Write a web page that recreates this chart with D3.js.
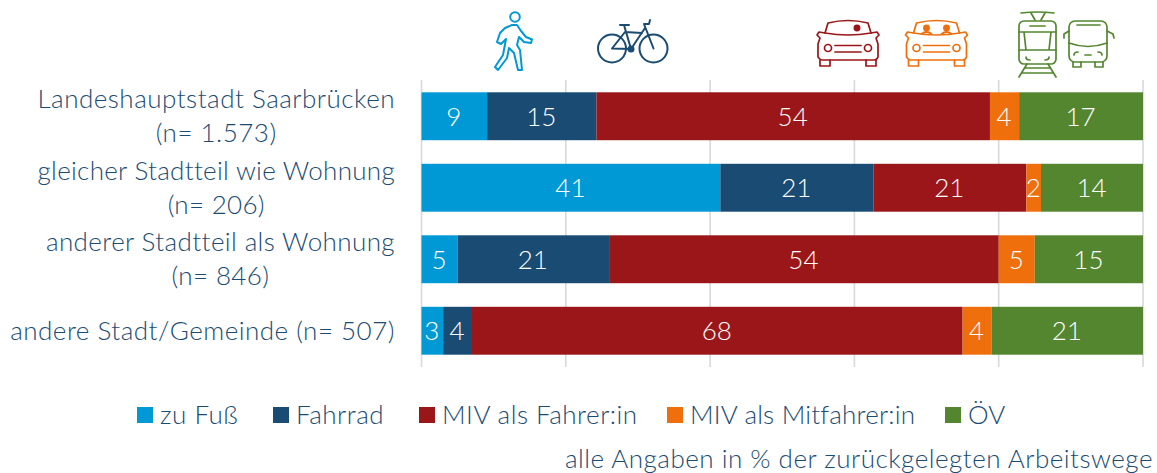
<!DOCTYPE html>
<html><head><meta charset="utf-8">
<script src="https://cdn.jsdelivr.net/npm/d3@7/dist/d3.min.js"></script>
<style>html,body{margin:0;padding:0;background:#fff}svg{display:block}
text{font-family:Lato,"Open Sans",sans-serif;font-weight:300}</style></head>
<body><svg id="c" width="1157" height="473"></svg>
<script>
const categories=["Landeshauptstadt Saarbrücken|(n= 1.573)","gleicher Stadtteil wie Wohnung|(n= 206)","anderer Stadtteil als Wohnung|(n= 846)","andere Stadt/Gemeinde (n= 507)"];
const seriesNames=["zu Fuß","Fahrrad","MIV als Fahrer:in","MIV als Mitfahrer:in","ÖV"];
const seriesColors=["#0099d6","#1a4b73","#9a1619","#ee6f0c","#548630"];
const zuFuss=[9,41,5,3];
const fahrrad=[15,21,21,4];
const mivFahrer=[54,21,54,68];
const mivMitfahrer=[4,2,5,4];
const oev=[17,14,15,21];
const gridTicks=[0,.2,.4,.6,.8,1];
const note="alle Angaben in % der zurückgelegten Arbeitswege";
const textColor="#1a4b73";
const labelSpacing=[.5,.3,.4,.5];
const legendSpacing=[.5,.5,.5,.2,0];

const svg=d3.select("#c");
const rows=categories.map((c,i)=>{const o={cat:c};[zuFuss,fahrrad,mivFahrer,mivMitfahrer,oev].forEach((a,k)=>o[seriesNames[k]]=a[i]);return o;});
const x=d3.scaleLinear().domain([0,1]).range([421.5,1143]);
const y=d3.scaleBand().domain(categories).range([80.5,366.5]).paddingInner(.33).paddingOuter(.165);
const stack=d3.stack().keys(seriesNames).offset(d3.stackOffsetExpand)(rows);

svg.append("g").selectAll("line").data(gridTicks).join("line")
 .attr("x1",d=>x(d)).attr("x2",d=>x(d)).attr("y1",80).attr("y2",367)
 .attr("stroke","#d9d9d9").attr("stroke-width",1.6);

const g=svg.append("g").selectAll("g").data(stack).join("g").attr("fill",(d,i)=>seriesColors[i]);
g.selectAll("rect").data(d=>d.map(v=>Object.assign(v,{key:d.key}))).join("rect")
 .attr("x",d=>x(d[0])).attr("width",d=>x(d[1])-x(d[0]))
 .attr("y",d=>y(d.data.cat)).attr("height",y.bandwidth());
g.selectAll("text").data(d=>d).join("text")
 .attr("x",d=>(x(d[0])+x(d[1]))/2-.5).attr("y",d=>y(d.data.cat)+y.bandwidth()/2+9.5)
 .attr("text-anchor","middle").attr("fill","#fff").attr("font-size",26)
 .text(d=>d.data[d.key]);

// category labels: block right-aligned, lines centred inside the block
const labelRight=395;
categories.forEach((c,k)=>{
  const parts=c.split("|"), mid=y(c)+y.bandwidth()/2;
  const t=parts.map((p,i)=>svg.append("text").style("letter-spacing",labelSpacing[k]+"px").attr("font-size",26).attr("fill",textColor)
    .attr("y",parts.length>1?mid+(i?26:-8):mid+9).text(p));
  const w=t[0].node().getComputedTextLength();
  t.forEach(n=>n.attr("x",labelRight-w/2).attr("text-anchor","middle"));
});

// legend
const legX=[137,273,419,667,945];
seriesNames.forEach((s,i)=>{
  svg.append("rect").attr("x",legX[i]).attr("y",407).attr("width",16).attr("height",16).attr("fill",seriesColors[i]);
  svg.append("text").style("letter-spacing",legendSpacing[i]+"px").attr("x",legX[i]+23).attr("y",424).attr("font-size",26).attr("fill",textColor).text(s);
});
svg.append("text").style("letter-spacing",".5px").attr("x",1153).attr("y",468).attr("text-anchor","end").attr("font-size",26).attr("fill",textColor).text(note);

// icons
function ic(color,sw){return svg.append("g").attr("fill","none").attr("stroke",color).attr("stroke-width",sw||2).attr("stroke-linejoin","round").attr("stroke-linecap","round");}
const walk=ic(seriesColors[0],2);
walk.append("circle").attr("cx",515).attr("cy",17).attr("r",4.8);
walk.append("path").attr("d","M512 25L517 25L521 31L526 37L532 39.5L531 43L524 42L519 37L517 45L520 50L522 70L518 70L514 53L509 48L507 58L498 70L495 67L503 55L506 39L501 44L497 42L500 33L505 28Z");
const bike=ic(seriesColors[1],2);
bike.append("circle").attr("cx",612).attr("cy",48.5).attr("r",14);
bike.append("circle").attr("cx",653.5).attr("cy",48.5).attr("r",14);
bike.append("path").attr("d","M612 48.5L631 49L645 28M645 24L649 24L650 20M653.5 48.5L644 24M631 49L624 25M620 25L629 25M612 48.5L625 32L642 33");
bike.append("circle").attr("cx",631).attr("cy",49).attr("r",2.5).attr("fill",seriesColors[1]);
function car(cx,color,heads){
  const c=ic(color,1.7);
  c.append("path").attr("d",`M${cx-23} 33L${cx-20} 23Q${cx} 18 ${cx+20} 23L${cx+23} 33Q${cx} 37 ${cx-23} 33Z`);
  c.append("path").attr("d",`M${cx-23} 33L${cx-29} 32L${cx-31} 35L${cx-28} 38L${cx-30} 44L${cx-30} 57Q${cx-28} 60 ${cx-26} 60L${cx+26} 60Q${cx+29} 60 ${cx+30} 57L${cx+30} 44L${cx+28} 38L${cx+31} 35L${cx+29} 32L${cx+23} 33`);
  c.append("path").attr("d",`M${cx-28} 60L${cx-28} 66L${cx-18} 66L${cx-18} 60M${cx+18} 60L${cx+18} 66L${cx+28} 66L${cx+28} 60M${cx-13} 45.5L${cx+13} 45.5M${cx-13} 52L${cx+13} 52`);
  [-20,20].forEach(d=>c.append("circle").attr("cx",cx+d).attr("cy",48).attr("r",3.5));
  heads.forEach(h=>{
    c.append("circle").attr("cx",cx+h).attr("cy",28).attr("r",2.6).attr("fill",color);
    if(heads.length>1)c.append("path").attr("d",`M${cx+h-5} 34Q${cx+h} 30 ${cx+h+5} 34`);
  });
}
car(848,seriesColors[2],[9]);
car(936.5,seriesColors[3],[-10,10]);
const tr=ic(seriesColors[4],1.7);
tr.append("path").attr("d","M1021 13Q1038 11 1054 13M1031 13L1035 20M1045 13L1041 20");
tr.append("rect").attr("x",1019).attr("y",21).attr("width",37).attr("height",43).attr("rx",5);
tr.append("path").attr("d","M1019 32L1056 32M1030 26L1045 26M1024 32L1026 50M1051 32L1049 50M1019 50L1056 50M1026 57Q1026 60 1030 60M1049 57Q1049 60 1045 60M1027 64L1019 77M1048 64L1056 77M1025 68L1050 68M1022 73L1053 73");
const bus=ic(seriesColors[4],1.7);
bus.append("rect").attr("x",1069).attr("y",21).attr("width",38).attr("height",41).attr("rx",6);
bus.append("path").attr("d","M1069 31L1064 34L1064 38M1107 31L1113 34L1114 38M1077 25L1100 25M1069 43Q1088 50 1107 43M1073 62L1073 67L1081 67L1081 62M1095 62L1095 67L1103 67L1103 62M1074 55Q1074 52 1078 52M1102 55Q1102 52 1098 52M1085 55L1091 55");
</script></body></html>
